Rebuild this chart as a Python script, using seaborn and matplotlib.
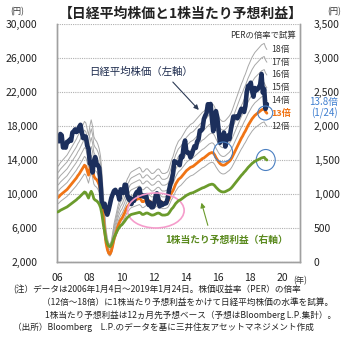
import numpy as np
import pandas as pd
import matplotlib
matplotlib.use("Agg")
import matplotlib.pyplot as plt
from matplotlib.patches import Ellipse
import seaborn as sns

# ---------------- data ----------------
nikkei_2006 = [16650, 16200, 17060, 16900, 15470, 15500, 15460, 16140, 16130, 16400, 16270, 17230]
nikkei_2007 = [17380, 17600, 17290, 17400, 17880, 18140, 17250, 16570, 16790, 16740, 15680, 15310]
nikkei_2008 = [13590, 13600, 12530, 13850, 14340, 13480, 13380, 13070, 11260, 8580, 8510, 8860]
nikkei_2009 = [7990, 7570, 8110, 8830, 9520, 9960, 10360, 10490, 10130, 10030, 9350, 10550]
nikkei_2010 = [10200, 10130, 11090, 11060, 9770, 9380, 9540, 8820, 9370, 9200, 9940, 10230]
nikkei_2011 = [10240, 10620, 9760, 9850, 9690, 9820, 9830, 8960, 8700, 8990, 8430, 8450]
nikkei_2012 = [8800, 9720, 10080, 9520, 8540, 9010, 8700, 8840, 8870, 8930, 9450, 10400]
nikkei_2013 = [11140, 11560, 12400, 13860, 13770, 13680, 13670, 13390, 14460, 14330, 15660, 16290]
nikkei_2014 = [14910, 14840, 14830, 14300, 14630, 15160, 15620, 15420, 16170, 16410, 17460, 17450]
nikkei_2015 = [17670, 18800, 19210, 19520, 20560, 20240, 20590, 18890, 17390, 19080, 19750, 19030]
nikkei_2016 = [17520, 16030, 16760, 16670, 17230, 15580, 16570, 16890, 16450, 17430, 18310, 19110]
nikkei_2017 = [19040, 19120, 18910, 19200, 19650, 20030, 19930, 19650, 20360, 22010, 22720, 22760]
nikkei_2018 = [23100, 22070, 21450, 22470, 22200, 22300, 22550, 22870, 24120, 21920, 22350, 20010]
nikkei_2019 = [20570]

eps_2006 = [735, 745, 760, 770, 780, 790, 800, 810, 825, 840, 855, 870]
eps_2007 = [885, 900, 915, 935, 950, 970, 990, 1010, 1030, 1020, 980, 940]
eps_2008 = [1000, 1040, 1000, 930, 910, 900, 880, 850, 800, 700, 560, 440]
eps_2009 = [330, 270, 235, 225, 250, 300, 360, 400, 440, 480, 510, 535]
eps_2010 = [550, 575, 600, 630, 655, 670, 690, 700, 705, 710, 715, 720]
eps_2011 = [725, 730, 720, 700, 700, 710, 720, 720, 710, 700, 690, 690]
eps_2012 = [695, 705, 715, 720, 715, 700, 690, 690, 690, 695, 700, 720]
eps_2013 = [750, 780, 800, 830, 860, 880, 900, 910, 920, 935, 950, 965]
eps_2014 = [980, 990, 1000, 1010, 1015, 1020, 1030, 1040, 1050, 1060, 1070, 1080]
eps_2015 = [1090, 1095, 1105, 1115, 1125, 1135, 1140, 1145, 1140, 1125, 1100, 1080]
eps_2016 = [1060, 1045, 1035, 1030, 1030, 1035, 1045, 1055, 1065, 1080, 1100, 1125]
eps_2017 = [1150, 1175, 1200, 1225, 1250, 1275, 1295, 1320, 1340, 1365, 1390, 1410]
eps_2018 = [1430, 1450, 1465, 1480, 1490, 1500, 1510, 1520, 1530, 1535, 1540, 1515]
eps_2019 = [1500]

years = list(range(2006, 2020))
per_multiples = [12, 13, 14, 15, 16, 17, 18]
per_labels = ["12倍", "13倍", "14倍", "15倍", "16倍", "17倍", "18倍"]
xtick_years = [2006, 2008, 2010, 2012, 2014, 2016, 2018, 2020]
xtick_labels = ["06", "08", "10", "12", "14", "16", "18", "20"]
left_ticks = [2000, 6000, 10000, 14000, 18000, 22000, 26000, 30000]
right_ticks = [0, 500, 1000, 1500, 2000, 2500, 3000, 3500]

nikkei_all = [nikkei_2006, nikkei_2007, nikkei_2008, nikkei_2009, nikkei_2010, nikkei_2011,
              nikkei_2012, nikkei_2013, nikkei_2014, nikkei_2015, nikkei_2016, nikkei_2017,
              nikkei_2018, nikkei_2019]
eps_all = [eps_2006, eps_2007, eps_2008, eps_2009, eps_2010, eps_2011, eps_2012, eps_2013,
           eps_2014, eps_2015, eps_2016, eps_2017, eps_2018, eps_2019]

t, nk, ep = [], [], []
for y, nl, el in zip(years, nikkei_all, eps_all):
    for m, (a, b) in enumerate(zip(nl, el)):
        t.append(y + (m + 0.5) / 12)
        nk.append(a)
        ep.append(b)
df = pd.DataFrame({"t": t, "nikkei": nk, "eps": ep})
for k in per_multiples:
    df[f"per{k}"] = df["eps"] * k

# ---------------- style ----------------
sns.set_theme(style="white")
plt.rcParams["font.family"] = ["Noto Sans CJK JP", "DejaVu Sans"]

fig = plt.figure(figsize=(3.61, 3.39), dpi=100)
ax = fig.add_axes([57 / 361, 1 - 262 / 339, (300 - 57) / 361, (262 - 24) / 339])
ax2 = ax.twinx()

navy = "#1c2f5c"
orange = "#f07415"
green = "#6b9b2c"
gray = "#a8a8a8"

for k in per_multiples:
    if k == 13:
        continue
    sns.lineplot(data=df, x="t", y=f"per{k}", ax=ax, color=gray, lw=0.7, zorder=2)
sns.lineplot(data=df, x="t", y="per13", ax=ax, color=orange, lw=2.0, zorder=3)
sns.lineplot(data=df, x="t", y="nikkei", ax=ax, color=navy, lw=3.3, zorder=4)
sns.lineplot(data=df, x="t", y="eps", ax=ax2, color=green, lw=2.0, zorder=3)

ax.set_xlim(2006.0, 2021.1)
ax.set_ylim(2000, 30000)
ax2.set_ylim(0, 3500)
ax.set_yticks(left_ticks)
ax.set_yticklabels([f"{v:,}" for v in left_ticks], fontsize=7.5, color="#222222")
ax2.set_yticks(right_ticks)
ax2.set_yticklabels([f"{v:,}" for v in right_ticks], fontsize=7.5, color="#222222")
ax.set_xticks(xtick_years)
ax.set_xticklabels(xtick_labels, fontsize=7.5, color="#222222")
ax.set_xlabel("")
ax.set_ylabel("")
ax2.set_ylabel("")
ax.tick_params(axis="x", direction="in", length=3, color="#999999", pad=8)
ax.tick_params(axis="y", length=0, pad=14)
ax2.tick_params(axis="y", length=0, pad=10)
ax.grid(axis="y", color="#b0b0b0", lw=0.8, linestyle=(0, (1, 1)))
ax.set_axisbelow(True)
for a in (ax, ax2):
    for s in a.spines.values():
        s.set_color("#a0a0a0")
        s.set_linewidth(1.0)
ax.spines["top"].set_visible(False)
ax2.spines["top"].set_visible(False)

# band labels
last_eps = df["eps"].iloc[-1]
for k, lab in zip(per_multiples, per_labels):
    if k == 13:
        ax.text(2019.3, k * last_eps, lab, fontsize=6.5, color=orange, va="center", ha="left",
                fontweight="bold")
    else:
        ax.text(2019.3, k * last_eps, lab, fontsize=6.3, color="#333333", va="center", ha="left")
ax.text(2020.85, 28700, "PERの倍率で試算", fontsize=6, color="#333333", ha="right", va="center")

# annotations
ax.text(2008.0, 24350, "日経平均株価（左軸）", fontsize=7.5, color="#1f2d4f", ha="left", va="center")
ax.annotate("", xy=(2014.93, 19650), xytext=(2013.08, 23410),
            arrowprops=dict(arrowstyle="-|>", color="#2c3a55", lw=0.8, mutation_scale=7))
ax.text(2012.7, 4590, "1株当たり予想利益（右軸）", fontsize=7, color="#5a8a1e", ha="left",
        va="center", fontweight="bold")
ax.annotate("", xy=(2014.93, 9290), xytext=(2015.42, 6000),
            arrowprops=dict(arrowstyle="-|>", color=green, lw=0.8, mutation_scale=7))

# circles
circ = "#4a7fc1"
ax.add_patch(Ellipse((2018.94, 19530), 0.93, 1650, fill=False, ec=circ, lw=0.8, zorder=6))
ax.add_patch(Ellipse((2016.32, 14940), 1.18, 2350, fill=False, ec=circ, lw=0.8, zorder=6))
ax.add_patch(Ellipse((2018.97, 14000), 1.18, 2470, fill=False, ec=circ, lw=0.8, zorder=6))
ax.add_patch(Ellipse((2012.14, 8060), 3.52, 4120, fill=False, ec="#f59ccb", lw=1.2, zorder=6))

# figure texts
fig.text(0.5, 1 - 14 / 339, "【日経平均株価と1株当たり予想利益】", fontsize=10, fontweight="bold",
         ha="center", va="center", color="#222222")
fig.text(17 / 361, 1 - 12 / 339, "(円)", fontsize=6, ha="center", va="center", color="#333333")
fig.text(334 / 361, 1 - 12 / 339, "(円)", fontsize=6, ha="center", va="center", color="#333333")
fig.text(324 / 361, 1 - 102 / 339, "13.8倍", fontsize=7, ha="center", va="center", color="#3f7fd0")
fig.text(324 / 361, 1 - 113 / 339, "(1/24)", fontsize=7, ha="center", va="center", color="#3f7fd0")
fig.text(293 / 361, 1 - 281 / 339, "(年)", fontsize=6, ha="left", va="center", color="#333333")

note_fs = 6.2
fig.text(13 / 361, 1 - 290 / 339, "(注）データは2006年1月4日～2019年1月24日。株価収益率（PER）の倍率",
         fontsize=note_fs, ha="left", va="center", color="#222222")
fig.text(42 / 361, 1 - 302 / 339, "（12倍～18倍）に1株当たり予想利益をかけて日経平均株価の水準を試算。",
         fontsize=note_fs, ha="left", va="center", color="#222222")
fig.text(45 / 361, 1 - 315 / 339, "1株当たり予想利益は12ヵ月先予想ベース（予想はBloomberg L.P.集計）。",
         fontsize=note_fs, ha="left", va="center", color="#222222")
fig.text(13 / 361, 1 - 327 / 339, "（出所）Bloomberg　L.P.のデータを基に三井住友アセットマネジメント作成",
         fontsize=note_fs, ha="left", va="center", color="#222222")

fig.savefig("out.png", dpi=100, facecolor="white")
